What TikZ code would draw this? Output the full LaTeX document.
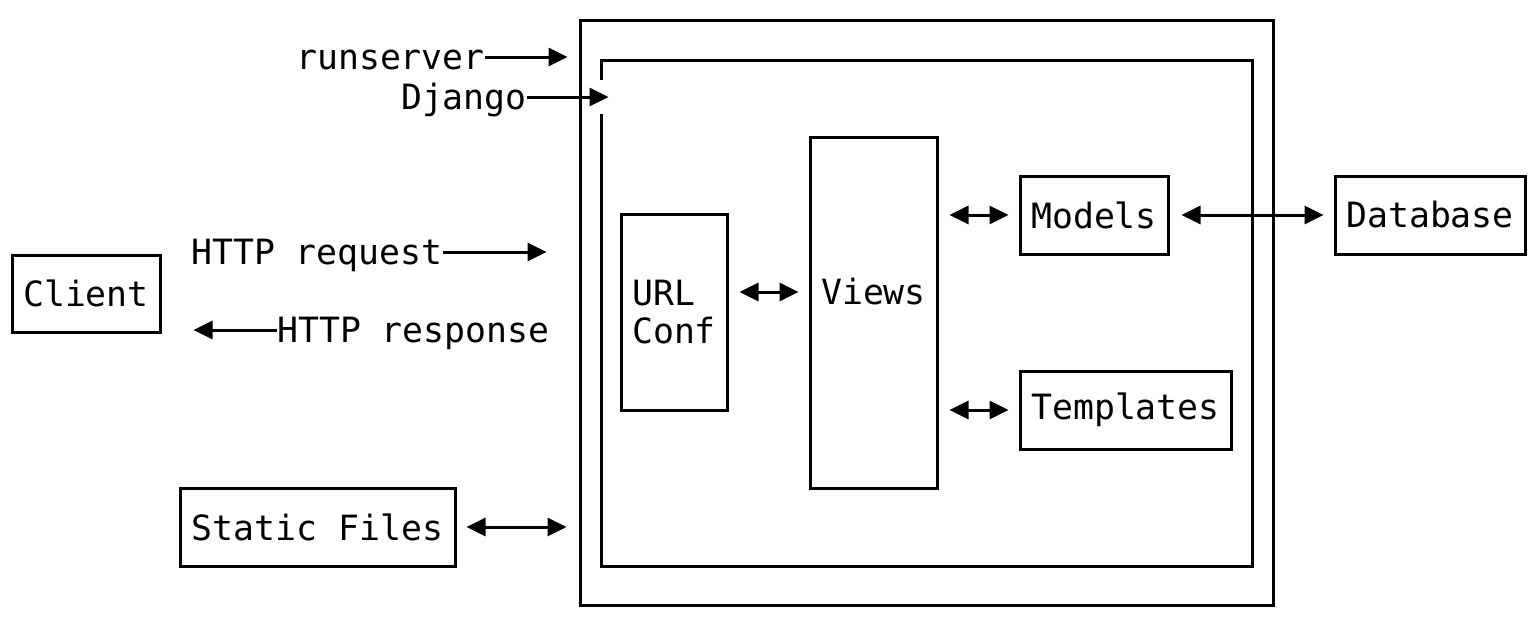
\documentclass[tikz,border=0pt]{standalone}
\usepackage{fontspec}
\newfontfamily\mono{DejaVu Sans Mono}
\usetikzlibrary{arrows.meta}
\begin{document}
\begin{tikzpicture}[x=1pt,y=-1pt,
  box/.style={draw, line width=3pt, rectangle, inner sep=0pt, align=left, font=\mono\fontsize{34.8}{38}\selectfont},
  lbl/.style={inner sep=0pt, text height=24pt, text depth=0pt, font=\mono\fontsize{34.8}{38}\selectfont},
  conn/.style={line width=3pt, -{Triangle[length=19pt,width=18pt]}},
  dconn/.style={line width=3pt, {Triangle[length=19pt,width=18pt]}-{Triangle[length=19pt,width=18pt]}},
]
\useasboundingbox (0,0) rectangle (1536,627);

% containers
\node[box, minimum width=693pt, minimum height=585pt] (outer) at (926.5,312.5) {};
\node[box, minimum width=651pt, minimum height=506pt] (inner) at (926.5,313) {};
\fill[white] (597,80) rectangle (605,114);

% boxes
\node[box, minimum width=148pt, minimum height=77pt] (client) at (86,293.5) {Client};
\node[box, minimum width=106pt, minimum height=196pt] (urlconf) at (674,312) {URL\\Conf};
\node[box, minimum width=127pt, minimum height=351pt] (views) at (873.5,312.5) {};
\node[lbl] (viewstxt) at (873.5,292) {Views};
\node[box, minimum width=148pt, minimum height=78pt] (models) at (1094,215) {Models};
\node[box, minimum width=190pt, minimum height=78pt] (db) at (1430,215) {Database};
\node[box, minimum width=211pt, minimum height=78pt] (templates) at (1125.5,410) {Templates};
\node[box, minimum width=275pt, minimum height=78pt] (static) at (317.5,527) {Static Files};

% labels
\node[lbl, anchor=east] (runserver) at (485,57) {runserver};
\node[lbl, anchor=east] (django) at (527,97) {Django};
\node[lbl, anchor=west] (req) at (191,252) {HTTP request};
\node[lbl, anchor=west] (resp) at (277,330) {HTTP response};

% connectors
\draw[conn, shorten >=11pt] (runserver.east) -- (outer.west |- runserver.east);
\draw[conn, shorten >=-9pt] (django.east) -- (inner.west |- django.east);
\draw[conn, shorten >=32pt] (req.east) -- (outer.west |- req.east);
\draw[conn, shorten >=32pt] (resp.west) -- (client.east |- resp.west);
\draw[dconn, shorten <=11pt, shorten >=10pt] (urlconf.east |- viewstxt.center) -- (views.west |- viewstxt.center);
\draw[dconn, shorten <=11pt, shorten >=10pt] (views.east |- models.west) -- (models.west);
\draw[dconn, shorten <=11pt, shorten >=10pt] (views.east |- templates.west) -- (templates.west);
\draw[dconn, shorten <=12pt, shorten >=10pt] (models.east) -- (db.west);
\draw[dconn, shorten <=10pt, shorten >=12pt] (static.east) -- (outer.west |- static.east);
\end{tikzpicture}
\end{document}
